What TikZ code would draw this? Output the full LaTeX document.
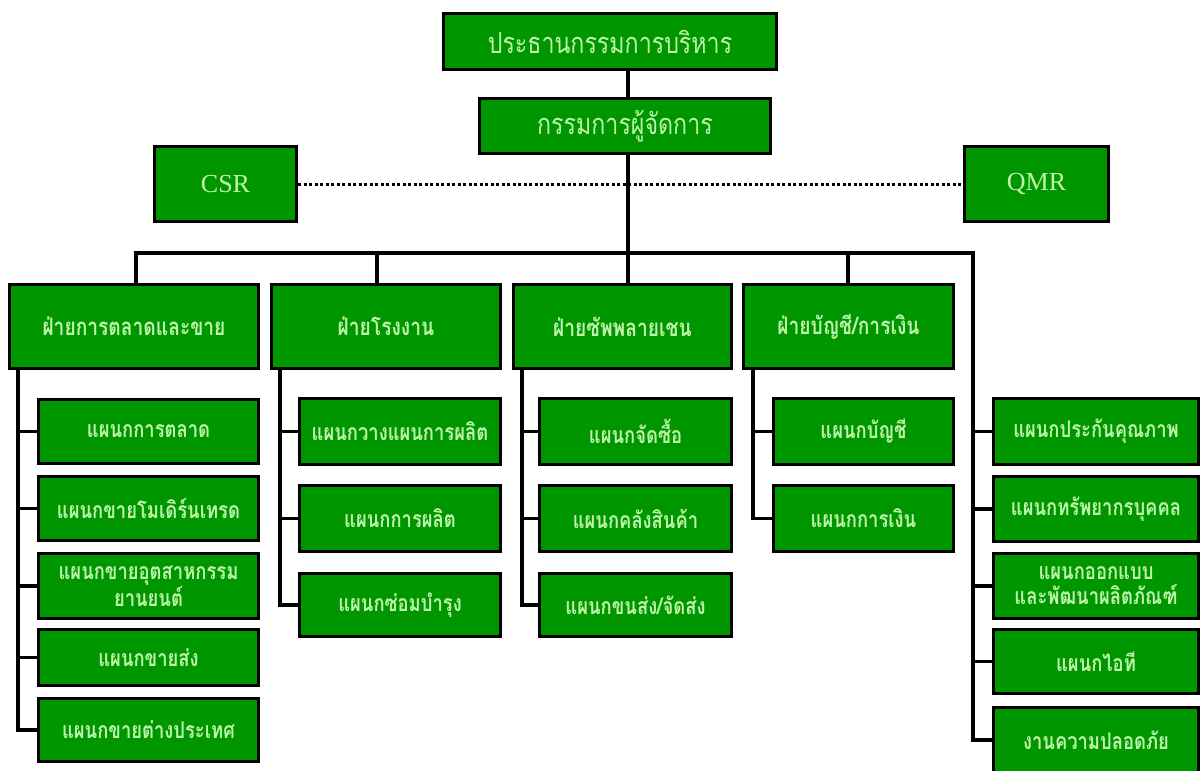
\documentclass[tikz,border=0pt]{standalone}
\usepackage{fontspec}
\setmainfont{Liberation Serif}
\newfontfamily\thaihead[Script=Thai,FakeStretch=0.8]{Loma}
\newfontfamily\thaicond[Script=Thai,FakeStretch=0.8]{Loma}
\definecolor{boxgreen}{RGB}{0,150,0}
\definecolor{textgreen}{RGB}{190,245,170}
\begin{document}
\begin{tikzpicture}[x=1pt,y=-1pt,
  box/.style={draw=black, line width=3.4pt, fill=boxgreen, text=textgreen,
    inner sep=0pt, align=center},
  headbox/.style={box, font=\thaihead\fontsize{29}{31}\selectfont},
  divbox/.style={box, font=\thaicond\bfseries\fontsize{24}{26}\selectfont},
  subbox/.style={box, font=\thaicond\bfseries\fontsize{23}{25}\selectfont},
  latbox/.style={box, font=\fontsize{26}{28}\selectfont},
  link/.style={line width=3.2pt, line cap=rect},
  dotlink/.style={line width=3pt, dash pattern=on 3pt off 2.5pt}]
\useasboundingbox (0,0) rectangle (1203,771);
\fill[white] (0,0) rectangle (1203,771);

% --- top of the chart
\node[headbox, minimum width=333, minimum height=56] (ceo) at (610,41.5) {ประธานกรรมการบริหาร};
\node[headbox, minimum width=291, minimum height=55] (md) at (625,126) {กรรมการผู้จัดการ};
\node[latbox, minimum width=142, minimum height=75] (csr) at (225.5,184) {CSR};
\node[latbox, minimum width=144, minimum height=75] (qmr) at (1036.5,184) {QMR};

% --- divisions
\node[divbox, minimum width=249, minimum height=84] (d1) at (134,326.5) {ฝ่ายการตลาดและขาย};
\node[divbox, minimum width=229, minimum height=84] (d2) at (386,326.5) {ฝ่ายโรงงาน};
\node[divbox, minimum width=218, minimum height=84] (d3) at (622.5,326.5) {ฝ่ายซัพพลายเชน};
\node[divbox, minimum width=210, minimum height=84] (d4) at (848.5,326.5) {ฝ่ายบัญชี/การเงิน};

% --- marketing and sales departments
\node[subbox, minimum width=220, minimum height=64] (a1) at (148.5,431.5) {แผนกการตลาด};
\node[subbox, minimum width=220, minimum height=64] (a2) at (148.5,508.5) {แผนกขายโมเดิร์นเทรด};
\node[subbox, minimum width=220, minimum height=65] (a3) at (148.5,586) {แผนกขายอุตสาหกรรม\\ยานยนต์};
\node[subbox, minimum width=220, minimum height=56] (a4) at (148.5,657.5) {แผนกขายส่ง};
\node[subbox, minimum width=220, minimum height=63] (a5) at (148.5,730) {แผนกขายต่างประเทศ};

% --- factory departments
\node[subbox, minimum width=201, minimum height=66] (b1) at (400,431.5) {แผนกวางแผนการผลิต};
\node[subbox, minimum width=201, minimum height=66] (b2) at (400,518.5) {แผนกการผลิต};
\node[subbox, minimum width=201, minimum height=63] (b3) at (400,605) {แผนกซ่อมบำรุง};

% --- supply chain departments
\node[subbox, minimum width=192, minimum height=66] (c1) at (635.5,431.5) {แผนกจัดซื้อ};
\node[subbox, minimum width=192, minimum height=66] (c2) at (635.5,518.5) {แผนกคลังสินค้า};
\node[subbox, minimum width=192, minimum height=63] (c3) at (635.5,605) {แผนกขนส่ง/จัดส่ง};

% --- accounting and finance departments
\node[subbox, minimum width=180, minimum height=66] (e1) at (863.5,431.5) {แผนกบัญชี};
\node[subbox, minimum width=180, minimum height=66] (e2) at (863.5,518.5) {แผนกการเงิน};

% --- departments reporting to the managing director
\node[subbox, minimum width=205, minimum height=66] (f1) at (1096,431.5) {แผนกประกันคุณภาพ};
\node[subbox, minimum width=205, minimum height=65] (f2) at (1096,509) {แผนกทรัพยากรบุคคล};
\node[subbox, minimum width=205, minimum height=65] (f3) at (1096,586) {แผนกออกแบบ\\และพัฒนาผลิตภัณฑ์};
\node[subbox, minimum width=205, minimum height=64] (f4) at (1096,661.5) {แผนกไอที};
\node[subbox, minimum width=205, minimum height=65] (f5) at (1096,740) {งานความปลอดภัย};

% --- reference points of the trunk lines
\coordinate (spine) at (628,0);
\coordinate (bus) at (0,253);
\coordinate (s1) at (136,0);
\coordinate (s2) at (377,0);
\coordinate (s4) at (848,0);
\coordinate (s5) at (973,0);
\coordinate (ta) at (18,0);
\coordinate (tb) at (280,0);
\coordinate (tc) at (522,0);
\coordinate (td) at (753,0);

% --- main spine and staff link
\draw[link] (ceo.south -| spine) -- (md.north -| spine);
\draw[link] (md.south -| spine) -- (d3.north -| spine);
\draw[dotlink] (csr.east) -- (qmr.west);

% --- bus to the divisions
\draw[link] (bus -| s1) -- (bus -| s5) -- (f5.west -| s5) -- (f5.west);
\draw[link] (bus -| s1) -- (d1.north -| s1);
\draw[link] (bus -| s2) -- (d2.north -| s2);
\draw[link] (bus -| s4) -- (d4.north -| s4);
\foreach \n in {f1,f2,f3,f4} \draw[link] (\n.west -| s5) -- (\n.west);

% --- department trunks
\draw[link] (d1.south -| ta) -- (a5.west -| ta) -- (a5.west);
\foreach \n in {a1,a2,a3,a4} \draw[link] (\n.west -| ta) -- (\n.west);
\draw[link] (d2.south -| tb) -- (b3.west -| tb) -- (b3.west);
\foreach \n in {b1,b2} \draw[link] (\n.west -| tb) -- (\n.west);
\draw[link] (d3.south -| tc) -- (c3.west -| tc) -- (c3.west);
\foreach \n in {c1,c2} \draw[link] (\n.west -| tc) -- (\n.west);
\draw[link] (d4.south -| td) -- (e2.west -| td) -- (e2.west);
\draw[link] (e1.west -| td) -- (e1.west);
\end{tikzpicture}
\end{document}
